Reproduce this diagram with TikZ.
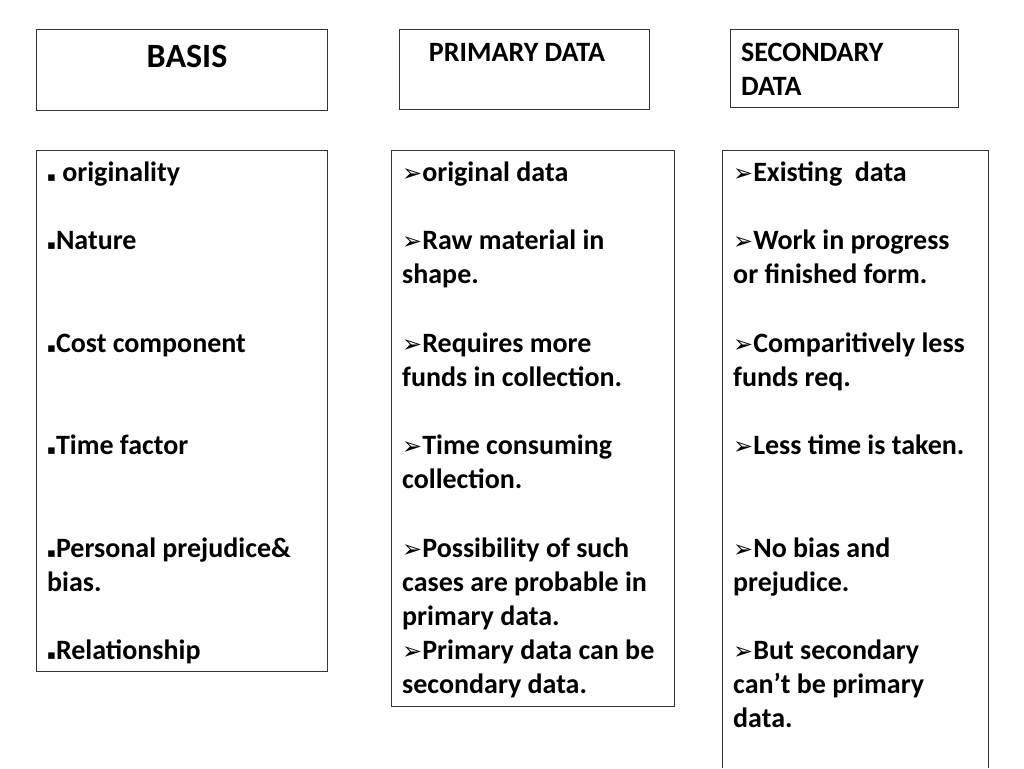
\documentclass[tikz,border=0pt]{standalone}
\usepackage{fontspec}
\setmainfont{Carlito}
\newfontfamily\symf{DejaVu Sans}
\newcommand{\arr}{{\symf\fontsize{24}{24}\selectfont ➢}}
\newcommand{\sq}{{\symf\fontsize{13}{13}\selectfont ▪}}
\begin{document}
\begin{tikzpicture}[x=1pt,y=-1pt,
  bx/.style={draw=black!80,line width=0.9pt},
  tx/.style={anchor=base west,inner sep=0pt,font=\fontsize{28}{32}\selectfont\bfseries}]
\useasboundingbox (0,0) rectangle (1024,768);
\draw[bx] (36,29) rectangle (327,110);
\draw[bx] (399,29) rectangle (649,109);
\draw[bx] (730,29) rectangle (958,107);
\draw[bx] (36,150) rectangle (327,671);
\draw[bx] (391,150) rectangle (674,706);
\draw[bx] (722,150) -- (988,150) -- (988,768) (722,768) -- (722,150);
\node[inner sep=0pt,anchor=base,font=\fontsize{34}{40}\selectfont\bfseries] (basis) at (187,67) {BASIS};
\node[inner sep=0pt,anchor=base,font=\fontsize{28}{32}\selectfont\bfseries] (prim) at (517,61) {PRIMARY DATA};
\node[tx] (sec1) at (741,61) {SECONDARY};
\node[tx] (sec2) at (741,95) {DATA};
\foreach \y/\t [count=\i] in {173/{\sq\ originality},241/{\sq Nature},344/{\sq Cost component},446/{\sq Time factor},549/{\sq Personal prejudice\&},583/{bias.},651/{\sq Relationship}}
  \node[tx] (a\i) at (47,\y+8) {\t};
\foreach \y/\t [count=\i] in {173/{\arr original data},241/{\arr Raw material in},275/{shape.},344/{\arr Requires more},378/{funds in collection.},446/{\arr Time consuming},480/{collection.},549/{\arr Possibility of such},583/{cases are probable in},617/{primary data.},651/{\arr Primary data can be},685/{secondary data.}}
  \node[tx] (b\i) at (402,\y+8) {\t};
\foreach \y/\t [count=\i] in {173/{\arr Existing\ \ data},241/{\arr Work in progress},275/{or finished form.},344/{\arr Comparitively less},378/{funds req.},446/{\arr Less time is taken.},549/{\arr No bias and},583/{prejudice.},651/{\arr But secondary},685/{can’t be primary},719/{data.}}
  \node[tx] (c\i) at (733,\y+8) {\t};
\end{tikzpicture}
\end{document}
